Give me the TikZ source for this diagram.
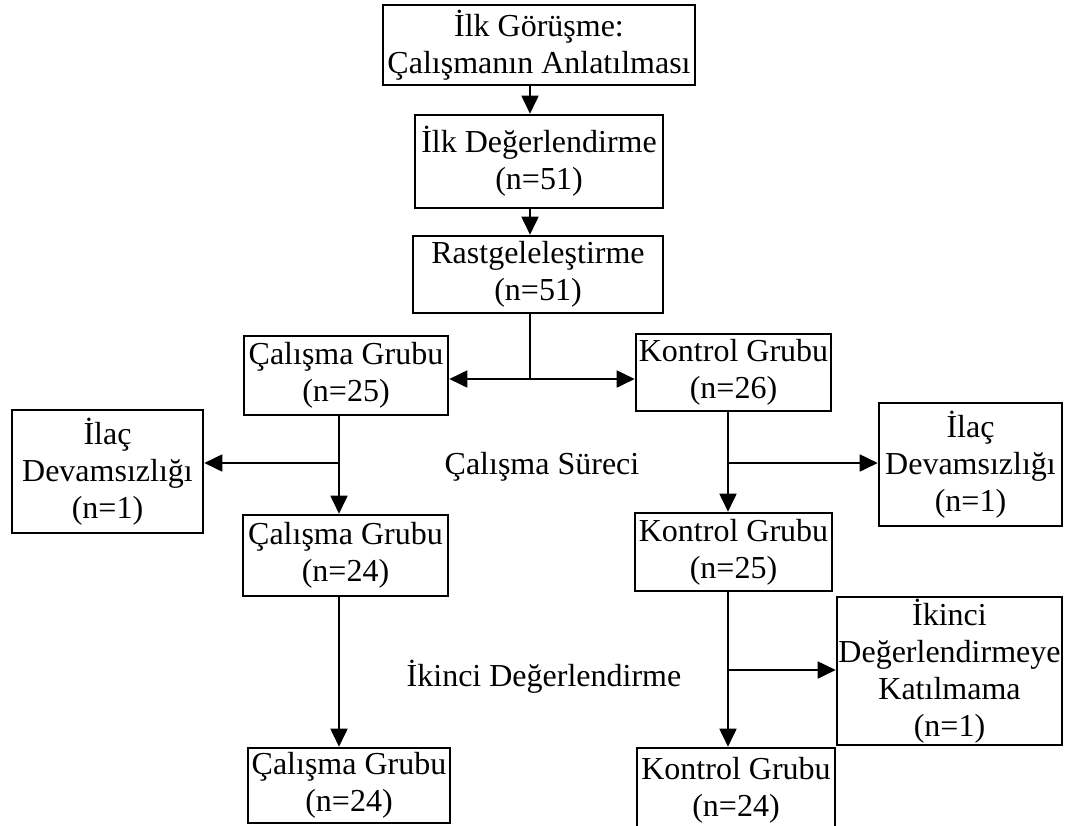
\documentclass[tikz,border=0pt]{standalone}
\usepackage{fontspec}
\setmainfont{Liberation Serif}
\usetikzlibrary{arrows.meta}
\begin{document}
\begin{tikzpicture}[x=1pt,y=-1pt,
  box/.style={draw=black,line width=2.6pt,inner sep=0pt,align=center,
    font=\fontsize{32}{37}\selectfont},
  lbl/.style={inner sep=0pt,font=\fontsize{32}{37}\selectfont},
  arr/.style={line width=1.8pt,-{Triangle[length=18pt,width=17pt]}},
  ln/.style={line width=1.8pt}]
\useasboundingbox (0,0) rectangle (1066,825);
\node[box,minimum width=312pt,minimum height=80pt] (b1) at (539,45) {İlk Görüşme:\\Çalışmanın Anlatılması};
\node[box,minimum width=248pt,minimum height=93pt] (b2) at (539,161.5) {İlk Değerlendirme\\(n=51)};
\node[box,minimum width=250pt,minimum height=77pt] (b3) at (538,274.5) {Rastgeleleştirme\\(n=51)};
\node[box,minimum width=204pt,minimum height=79pt] (b4) at (346,375.5) {Çalışma Grubu\\(n=25)};
\node[box,minimum width=195pt,minimum height=77pt] (b5) at (733.5,372.5) {Kontrol Grubu\\(n=26)};
\node[box,minimum width=191pt,minimum height=123pt] (b6) at (107.5,471.5) {İlaç\\Devamsızlığı\\(n=1)};
\node[box,minimum width=183pt,minimum height=123pt] (b7) at (970.5,464.5) {İlaç\\Devamsızlığı\\(n=1)};
\node[box,minimum width=205pt,minimum height=81pt] (b8) at (345.5,555.5) {Çalışma Grubu\\(n=24)};
\node[box,minimum width=197pt,minimum height=78pt] (b9) at (733.5,552) {Kontrol Grubu\\(n=25)};
\node[box,minimum width=225pt,minimum height=148pt] (b10) at (949.5,671) {İkinci\\Değerlendirmeye\\Katılmama\\(n=1)};
\node[box,minimum width=202pt,minimum height=75pt] (b11) at (349,785.5) {Çalışma Grubu\\(n=24)};
\node[box,minimum width=198pt,minimum height=84pt] (b12) at (736,790) {Kontrol Grubu\\(n=24)};
\node[lbl] (t1) at (542,467) {Çalışma Süreci};
\node[lbl] (t2) at (544,677) {İkinci Değerlendirme};
\coordinate (ax) at (530,0);
\coordinate (lx) at (339,0);
\coordinate (rx) at (728,0);
\coordinate (j1) at (530,379);
\coordinate (j2) at (339,463);
\coordinate (j3) at (728,463);
\coordinate (j4) at (728,670);
\draw[arr] (b1.south -| ax) -- (b2.north -| ax);
\draw[arr] (b2.south -| ax) -- (b3.north -| ax);
\draw[ln] (b3.south -| ax) -- (j1);
\draw[arr] (j1) -- (b4.east |- j1);
\draw[arr] (j1) -- (b5.west |- j1);
\draw[arr] (b4.south -| lx) -- (b8.north -| lx);
\draw[arr] (j2) -- (b6.east |- j2);
\draw[arr] (b5.south -| rx) -- (b9.north -| rx);
\draw[arr] (j3) -- (b7.west |- j3);
\draw[arr] (b8.south -| lx) -- (b11.north -| lx);
\draw[arr] (b9.south -| rx) -- (b12.north -| rx);
\draw[arr] (j4) -- (b10.west |- j4);
\end{tikzpicture}
\end{document}
